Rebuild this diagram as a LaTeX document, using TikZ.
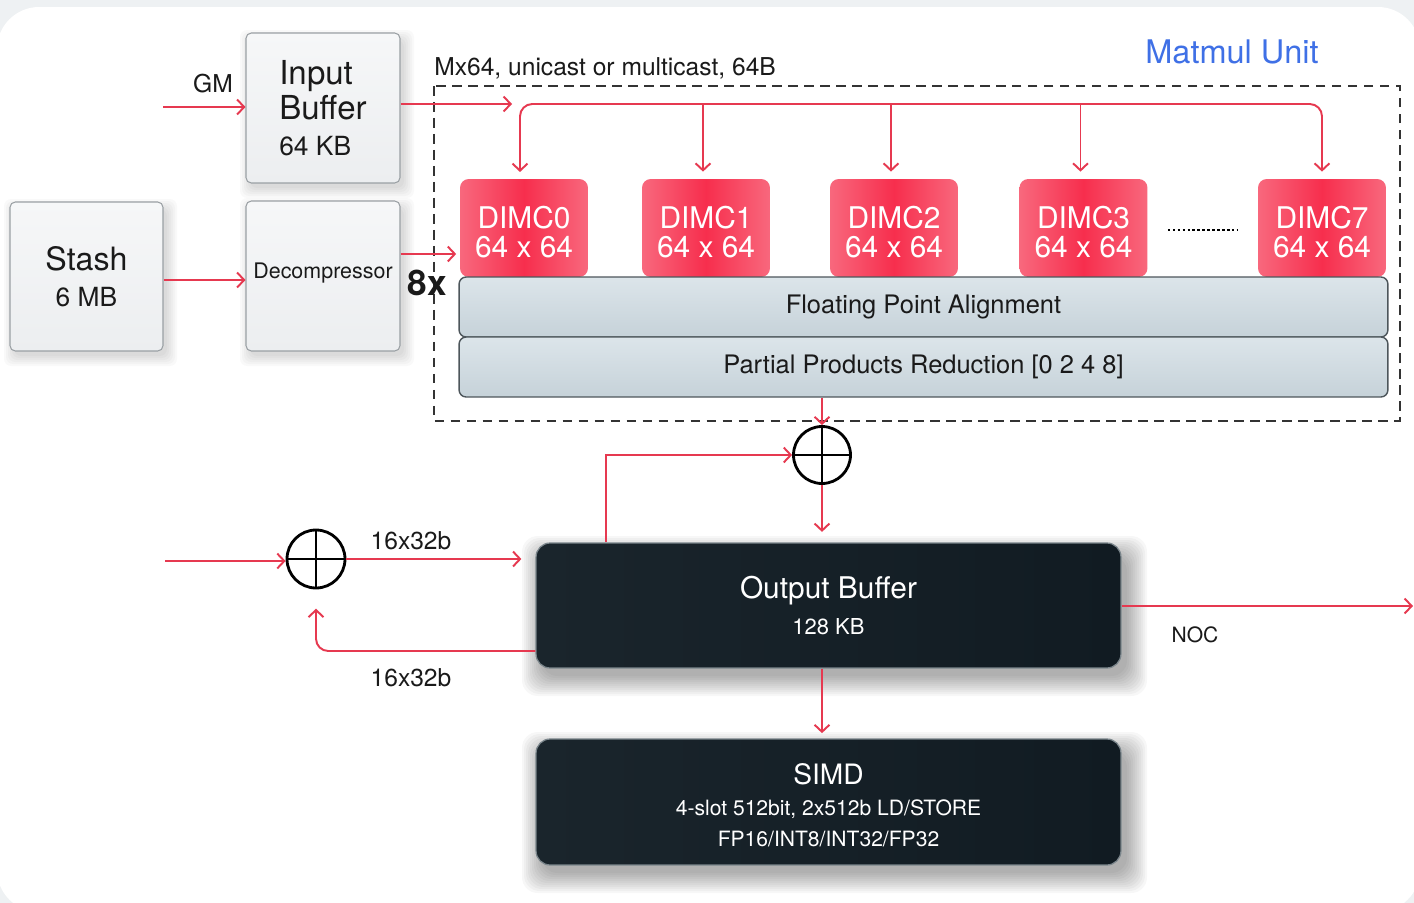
\documentclass[tikz,border=0pt]{standalone}
\usepackage{fontspec}
\setmainfont{TeX Gyre Heros}
\usetikzlibrary{arrows.meta,calc}
\definecolor{ared}{HTML}{E63950}
\definecolor{dimcL}{HTML}{F8687D}
\definecolor{dimcM}{HTML}{F72E4D}
\definecolor{boxgray}{HTML}{9AA0A4}
\definecolor{txt}{HTML}{1A1A1A}
\definecolor{mblue}{HTML}{3F70E6}
\definecolor{bgray}{HTML}{EEF1F3}
\definecolor{lightT}{HTML}{F6F7F8}
\definecolor{lightB}{HTML}{ECEEF0}
\definecolor{layT}{HTML}{DCE5EA}
\definecolor{layB}{HTML}{C6D2D9}
\definecolor{layD}{HTML}{4D565B}
\definecolor{darkL}{HTML}{1A252C}
\definecolor{darkM}{HTML}{36434A}
\definecolor{darkR}{HTML}{111B22}
\definecolor{darkD}{HTML}{7A858B}
% soft shadow: x1,y1,x2,y2 (px), steps, opacity, corner
\newcommand{\mysoftshadow}[7]{%
  \foreach \e in {0,...,#5}{%
    \fill[black, opacity=#6, rounded corners=#7] ($(#1,#2)+(-\e*2,-\e*2)$) rectangle ($(#3,#4)+(\e*2,\e*2)$);}}
\begin{document}
\begin{tikzpicture}[x=0.02cm,y=-0.02cm,
  arr/.style={draw=ared, line width=1.1pt, -{Straight Barb[length=4pt,width=8.5pt]}},
  arrb/.style={draw=ared, line width=1.1pt, {Straight Barb[length=4pt,width=8.5pt]}-{Straight Barb[length=4pt,width=8.5pt]}},
  lightbox/.style={draw=boxgray, line width=0.6pt, rounded corners=3pt, top color=lightT, bottom color=lightB, minimum width=3.08cm, minimum height=3cm, text=txt, align=center},
  dimc/.style={rounded corners=5pt, left color=dimcL, right color=dimcL, middle color=dimcM, minimum width=2.56cm, minimum height=1.96cm},
  dimct/.style={text=white, font=\fontsize{17}{16.5}\selectfont, align=center, inner sep=0pt},
  layer/.style={draw=layD, line width=0.8pt, rounded corners=4pt, top color=layT, bottom color=layB, minimum width=18.58cm, minimum height=1.2cm, text=txt, font=\fontsize{14.5}{16}\selectfont},
  darkbox/.style={draw=darkD, line width=0.7pt, rounded corners=8pt, left color=darkL, middle color=darkM, right color=darkR, minimum width=11.7cm, minimum height=2.5cm, text=white, align=center},
  oplus/.style={circle, draw=black, line width=1.6pt, minimum size=1.14cm, inner sep=0pt, path picture={\draw[line width=1.6pt] (path picture bounding box.north) -- (path picture bounding box.south) (path picture bounding box.west) -- (path picture bounding box.east);}},
  lbl/.style={text=txt, inner sep=0pt}
]
\useasboundingbox (0,0) rectangle (1414,903);
% background
\fill[bgray] (0,0) rectangle (1414,903);
\fill[white, rounded corners=24pt] (-3,7) rectangle (1420,912);

% shadows
\mysoftshadow{250}{40}{404}{188}{5}{0.022}{4pt}
\mysoftshadow{14}{209}{167}{356}{5}{0.022}{4pt}
\mysoftshadow{250}{208}{404}{356}{5}{0.022}{4pt}
\mysoftshadow{542}{556}{1127}{676}{10}{0.032}{9pt}
\mysoftshadow{542}{752}{1127}{873}{10}{0.032}{9pt}

% input side
\node[lightbox, align=left, font=\fontsize{18.8}{20}\selectfont] (ib) at (323,108) {Input\\Buffer\\[0.5pt]{\fontsize{15}{16}\selectfont 64 KB}};
\node[lightbox, minimum width=3.06cm, minimum height=2.98cm, font=\fontsize{18.3}{20}\selectfont] (stash) at (86.5,276.5) {Stash\\[0.5pt]{\fontsize{15}{16}\selectfont 6 MB}};
\node[lightbox, font=\fontsize{12.2}{14}\selectfont] (dec) at (323,276) {\raisebox{6pt}{Decompressor}};

\node[lbl, font=\fontsize{14}{16}\selectfont] (gm) at (213,84) {GM};
\coordinate (gmin) at (163,107);
\draw[arr] (gmin) -- (gmin -| ib.west);

\coordinate (sy) at (0,280);
\draw[arr] (stash.east |- sy) -- (dec.west |- sy);

% matmul unit frame
\draw[black!80, line width=1.1pt, dash pattern=on 5.5pt off 3.6pt] (434,86) rectangle (1400,421);
\node[lbl, anchor=base west, font=\fontsize{14}{16}\selectfont] (mx) at (434,75) {Mx64, unicast or multicast, 64B};
\node[lbl, text=mblue, font=\fontsize{18.5}{20}\selectfont] (mu) at (1232,52) {Matmul Unit};

% DIMCs
\foreach \n/\x in {0/524,1/706,2/894,3/1083.5,7/1322}{
  \node[dimc] (d\n) at (\x,228) {};
  \node[dimct] (t\n) at ($(d\n.center)+(0,4)$) {DIMC\n\\64 x 64};
}
\draw[black, line width=1pt, dash pattern=on 1.5pt off 1.3pt] ($(d3.east)+(20,2)$) coordinate (dotL) -- ($(d7.west)+(-20,2)$) coordinate (dotR);

\node[layer] (fpa) at (923.5,307) {Floating Point Alignment};
\node[layer] (ppr) at (923.5,367) {Partial Products Reduction [0 2 4 8]};

% bus
\coordinate (busin) at (512,104);
\draw[arr] (ib.east |- busin) -- (busin);
\coordinate (bustop) at (900,104);
\coordinate (d0n) at (520,179);
\draw[arrb, rounded corners=7pt, shorten <=4pt, shorten >=4pt] (d0n) |- (bustop) -| (d7.north);
\foreach \d in {d1,d2,d3} \draw[arr, shorten >=4pt] ([xshift=-3*0.02cm]\d.north |- bustop) -- ([xshift=-3*0.02cm]\d.north);

% decompressor to DIMC0
\coordinate (dy) at (0,254);
\draw[arr, shorten >=2pt] (dec.east |- dy) -- (d0.west |- dy);
\node[lbl, font=\bfseries\fontsize{20}{22}\selectfont] (eight) at (427,283) {8x};

% accumulation
\node[oplus] (c1) at (822,455) {};
\draw[arr] (ppr.south -| c1) -- (c1.north);
\node[darkbox, font=\fontsize{12.5}{14}\selectfont] (ob) at (828.5,605.5) {{\fontsize{17}{18}\selectfont Output Buffer}\\[7pt]128 KB};
\draw[arr, shorten >=6pt] (c1.south) -- (c1.south |- ob.north);
\coordinate (fbx) at (606,0);
\draw[arr] (ob.north -| fbx) |- (c1.west);

\node[oplus, minimum size=1.16cm] (c2) at (316,559) {};
\coordinate (lin) at (165,561);
\draw[arr] (lin) -- (c2.west |- lin);
\draw[arr, shorten >=8pt] (c2.east) -- (c2.east -| ob.west);
\node[lbl, font=\fontsize{14}{16}\selectfont] (l1) at (411,541) {16x32b};
\coordinate (fby) at (0,651);
\draw[arr, rounded corners=7pt, shorten >=11pt] (ob.west |- fby) -| (c2.south);
\node[lbl, font=\fontsize{14}{16}\selectfont] (l2) at (411,678) {16x32b};

\coordinate (noc) at (1413,606);
\draw[arr] (ob.east |- noc) -- (noc);
\node[lbl, font=\fontsize{12}{14}\selectfont] (nocl) at (1195,635) {NOC};

\node[darkbox, minimum height=2.52cm, font=\fontsize{12}{17.5}\selectfont] (simd) at (828.5,802) {\rule{0pt}{15.5pt}{\fontsize{16}{17}\selectfont SIMD}\\[0pt]4-slot 512bit, 2x512b LD/STORE\\FP16/INT8/INT32/FP32};
\coordinate (sx) at (822,0);
\draw[arr, shorten >=3pt] (ob.south -| sx) -- (simd.north -| sx);
\end{tikzpicture}
\end{document}
